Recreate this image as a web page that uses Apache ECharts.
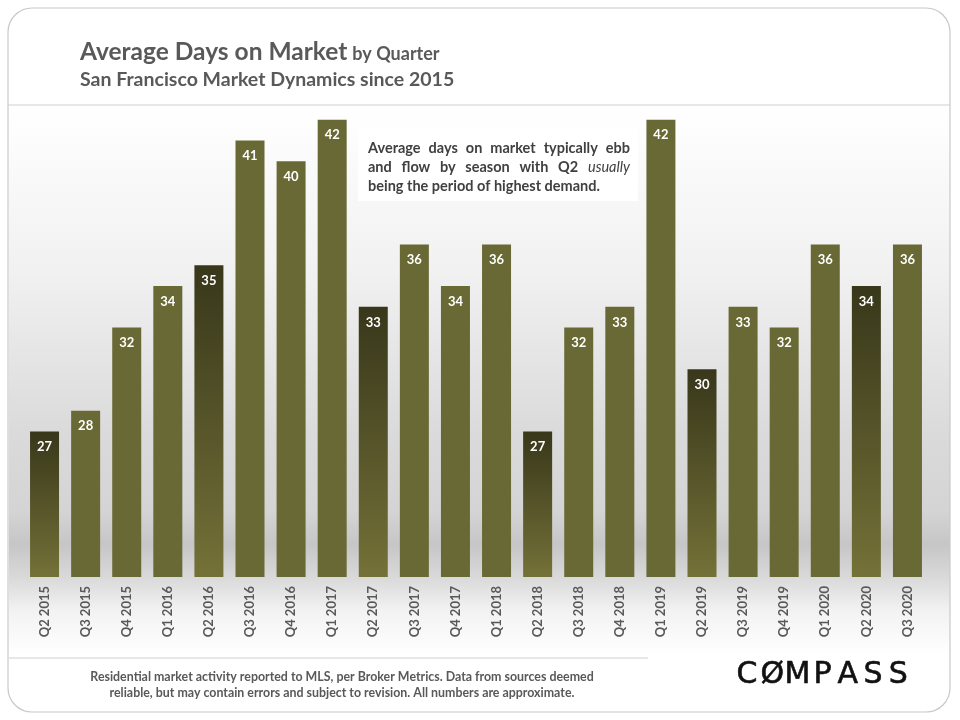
<!DOCTYPE html>
<html>
<head>
<meta charset="utf-8">
<script src="https://cdn.jsdelivr.net/npm/echarts@6/dist/echarts.min.js"></script>
<style>
  html, body { margin: 0; padding: 0; background: #fff; }
  #chart { width: 960px; height: 720px; }
</style>
</head>
<body>
<div id="chart"></div>
<script>
var quarters = ['Q2 2015', 'Q3 2015', 'Q4 2015', 'Q1 2016', 'Q2 2016', 'Q3 2016', 'Q4 2016', 'Q1 2017',
  'Q2 2017', 'Q3 2017', 'Q4 2017', 'Q1 2018', 'Q2 2018', 'Q3 2018', 'Q4 2018', 'Q1 2019',
  'Q2 2019', 'Q3 2019', 'Q4 2019', 'Q1 2020', 'Q2 2020', 'Q3 2020'];
var days = [27, 28, 32, 34, 35, 41, 40, 42, 33, 36, 34, 36, 27, 32, 33, 42, 30, 33, 32, 36, 34, 36];
// note text, one array per line; words marked with * are italic
var noteLines = [
  ['Average', 'days', 'on', 'market', 'typically', 'ebb'],
  ['and', 'flow', 'by', 'season', 'with', 'Q2', '*usually'],
  ['being', 'the', 'period', 'of', 'highest', 'demand.']
];
var footLines = ['Residential market activity reported to MLS, per Broker Metrics. Data from sources deemed',
  'reliable, but may contain errors and subject to revision. All numbers are approximate.'];
var logo = ['C', 'Ø', 'M', 'P', 'A', 'S', 'S'];

var FONT = 'Lato, "Open Sans", sans-serif';
var olive = '#696936';
// Q2 bars: dark at top, olive at bottom
var q2Fill = new echarts.graphic.LinearGradient(0, 0, 0, 1, [
  { offset: 0, color: '#38371a' },
  { offset: 1, color: '#747138' }
]);

var barData = days.map(function (v, i) {
  var item = { value: v };
  if (quarters[i].indexOf('Q2') === 0) {
    item.itemStyle = { color: q2Fill };
  }
  return item;
});

var myChart = echarts.init(document.getElementById('chart'));

var graphics = [
  // plot backdrop
  {
    type: 'rect', silent: true, z: -10,
    shape: { x: 9, y: 106, width: 941, height: 548 },
    style: {
      fill: new echarts.graphic.LinearGradient(0, 0, 0, 1, [
        { offset: 0, color: '#ffffff' },
        { offset: 0.3, color: '#f1f1f1' },
        { offset: 0.6, color: '#dadada' },
        { offset: 0.74, color: '#d4d4d4' },
        { offset: 0.8, color: '#c6c6c6' },
        { offset: 0.86, color: '#d9d9d9' },
        { offset: 0.92, color: '#f2f2f2' },
        { offset: 1, color: '#ffffff' }
      ])
    }
  },
  // outer frame
  {
    type: 'rect', silent: true, z: -5,
    shape: { x: 8, y: 8, width: 942, height: 704, r: 24 },
    style: { fill: null, stroke: '#c8c8c8', lineWidth: 1.2 }
  },
  // header rule
  {
    type: 'line', silent: true,
    shape: { x1: 8, y1: 105, x2: 950, y2: 105 },
    style: { stroke: '#cfcfcf', lineWidth: 1.2 }
  },
  // footer rule
  {
    type: 'line', silent: true,
    shape: { x1: 9, y1: 658, x2: 648, y2: 658 },
    style: { stroke: '#cfcfcf', lineWidth: 1.2 }
  },
  // note box
  {
    type: 'rect', silent: true, z: 10,
    shape: { x: 358, y: 127, width: 280, height: 74 },
    style: { fill: '#ffffff' }
  },
  // footer note
  {
    type: 'text', silent: true,
    x: 342, y: 685,
    style: {
      text: footLines.join('\n'),
      fontFamily: FONT, fontSize: 12.4, fontWeight: 'bold', fill: '#595959',
      lineHeight: 16, align: 'center', verticalAlign: 'middle'
    }
  }
];

// justified note text (last line left aligned)
var ctx = document.createElement('canvas').getContext('2d');
var noteSize = 14.5, noteLeft = 368, noteRight = 630, noteTop = 148;
function noteFont(italic) {
  return (italic ? 'italic normal ' : 'normal bold ') + noteSize + 'px ' + FONT;
}
noteLines.forEach(function (words, li) {
  var widths = words.map(function (w) {
    ctx.font = noteFont(w.charAt(0) === '*');
    return ctx.measureText(w.replace('*', '')).width;
  });
  var total = widths.reduce(function (a, b) { return a + b; }, 0);
  var gap = li < noteLines.length - 1
    ? (noteRight - noteLeft - total) / (words.length - 1)
    : ctx.measureText(' ').width;
  var x = noteLeft;
  words.forEach(function (w, wi) {
    var it = w.charAt(0) === '*';
    graphics.push({
      type: 'text', silent: true, z: 11,
      x: x, y: noteTop + li * 19,
      style: {
        text: w.replace('*', ''), fontFamily: FONT, fontSize: noteSize,
        fontWeight: it ? 'normal' : 'bold', fontStyle: it ? 'italic' : 'normal',
        fill: '#404040', verticalAlign: 'middle'
      }
    });
    x += widths[wi] + gap;
  });
});

logo.forEach(function (ch, i) {
  graphics.push({
    type: 'text', silent: true,
    x: 747 + i * 25.2, y: 675,
    style: {
      text: ch, fontFamily: '"DejaVu Sans", sans-serif', fontSize: 30,
      fill: '#111111', align: 'center', verticalAlign: 'middle',
      stroke: '#111111', lineWidth: 0.6
    }
  });
});

option = {
  backgroundColor: '#ffffff',
  animation: false,
  title: {
    left: 80, top: 40, padding: 0,
    text: '{a|Average Days on Market} {b|by Quarter}',
    subtext: 'San Francisco Market Dynamics since 2015',
    itemGap: 5,
    textStyle: {
      rich: {
        a: { fontFamily: FONT, fontSize: 24.5, fontWeight: 'bold', color: '#595959' },
        b: { fontFamily: FONT, fontSize: 18, fontWeight: 'bold', color: '#595959', padding: [4, 0, 0, 0] }
      }
    },
    subtextStyle: { fontFamily: FONT, fontSize: 19.5, fontWeight: 'bold', color: '#595959' }
  },
  grid: { left: 24, right: 32, top: 99, bottom: 143, containLabel: false },
  xAxis: {
    type: 'category',
    data: quarters,
    axisLine: { show: false },
    axisTick: { show: false },
    axisLabel: {
      rotate: 90, interval: 0, margin: 9,
      fontFamily: FONT, fontSize: 13, fontWeight: 'bold', color: '#595959'
    }
  },
  yAxis: {
    type: 'value',
    min: 20, max: 43,
    show: false,
    splitLine: { show: false }
  },
  series: [{
    type: 'bar',
    data: barData,
    barWidth: 29,
    itemStyle: { color: olive },
    label: {
      show: true, position: 'insideTop', distance: 9,
      fontFamily: FONT, fontSize: 13, fontWeight: 'bold', color: '#ffffff'
    }
  }],
  graphic: graphics
};
myChart.setOption(option, true);
</script>
</body>
</html>
